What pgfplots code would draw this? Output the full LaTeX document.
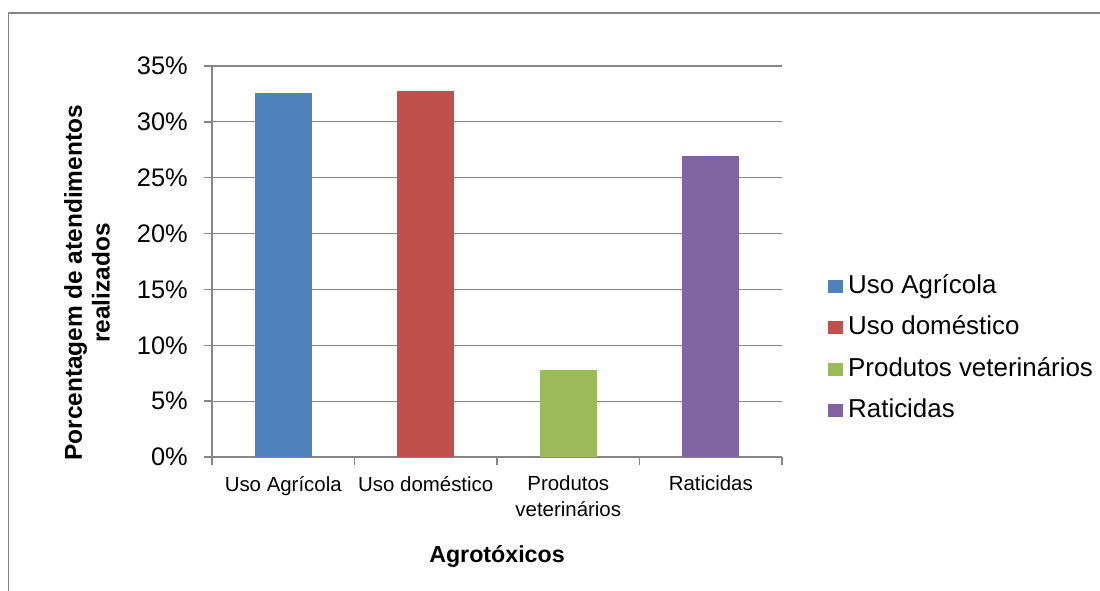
\documentclass[border=0pt]{standalone}
\usepackage{pgfplots}
\pgfplotsset{compat=1.18}
\usepackage{fontspec}
\setmainfont{Liberation Sans}

\definecolor{cblue}{HTML}{4F81BD}
\definecolor{cred}{HTML}{C0504D}
\definecolor{cgreen}{HTML}{9BBB59}
\definecolor{cpurple}{HTML}{8064A2}
\definecolor{linegray}{HTML}{868686}

\begin{document}
\begin{tikzpicture}
\useasboundingbox (0bp,0bp) rectangle (1100bp,591bp);
% chart area frame (left and top edges)
\draw[linegray, line width=1.5bp] (8.5bp,-2bp) -- (8.5bp,578bp) -- (1102bp,578bp);
\begin{axis}[
  at={(212bp,134bp)}, anchor=south west,
  scale only axis, width=570bp, height=391bp,
  xmin=-0.5, xmax=3.5, ymin=0, ymax=35,
  axis lines*=left,
  axis line style={linegray, line width=1.5bp},
  tick align=outside,
  major tick length=8bp,
  tick style={linegray, line width=1.5bp},
  ymajorgrids,
  grid style={linegray, line width=1.2bp},
  ytick={0,5,...,35},
  yticklabel={\pgfmathprintnumber{\tick}\%},
  /pgf/number format/assume math mode=true,
  yticklabel style={font=\fontsize{25.5}{30}\selectfont, inner sep=0pt, xshift=-16bp},
  xtick={-0.5,0.5,1.5,2.5,3.5},
  xticklabels={},
  extra x ticks={0,1,2,3},
  extra x tick labels={Uso Agrícola, Uso doméstico, {Produtos\\veterinários}, Raticidas},
  extra x tick style={major tick length=0pt, grid=none,
    xticklabel style={font=\fontsize{20.5}{25.7}\selectfont, align=center, anchor=north, inner sep=0pt, yshift=-19bp}},
  xlabel={Agrotóxicos},
  xlabel style={at={(axis description cs:0.5,-0.2686)}, anchor=base, font=\bfseries\fontsize{23.3}{28}\selectfont},
  ylabel={Porcentagem de atendimentos\\realizados},
  ylabel style={at={(axis description cs:-0.2193,0.445)}, anchor=center, align=center, font=\bfseries\fontsize{24.5}{28}\selectfont},
  ybar, bar width=57bp,
  legend image code/.code={\fill[#1] (0bp,-6bp) rectangle (15bp,7bp);},
  legend cell align=left,
  legend style={at={(axis description cs:1.0807,0.2762)}, anchor=west, draw=none, fill=none,
    inner sep=0pt, row sep=16.3bp, column sep=5bp,
    font=\fontsize{26}{31}\selectfont,
    nodes={inner sep=0pt, text height=19bp, text depth=6bp}},
]
\addplot[fill=cblue, draw=none, bar shift=0pt] coordinates {(0,32.6)};
\addplot[fill=cred, draw=none, bar shift=0pt] coordinates {(1,32.8)};
\addplot[fill=cgreen, draw=none, bar shift=0pt] coordinates {(2,7.8)};
\addplot[fill=cpurple, draw=none, bar shift=0pt] coordinates {(3,26.9)};
\legend{Uso Agrícola, Uso doméstico, Produtos veterinários, Raticidas}
\end{axis}
\end{tikzpicture}
\end{document}
